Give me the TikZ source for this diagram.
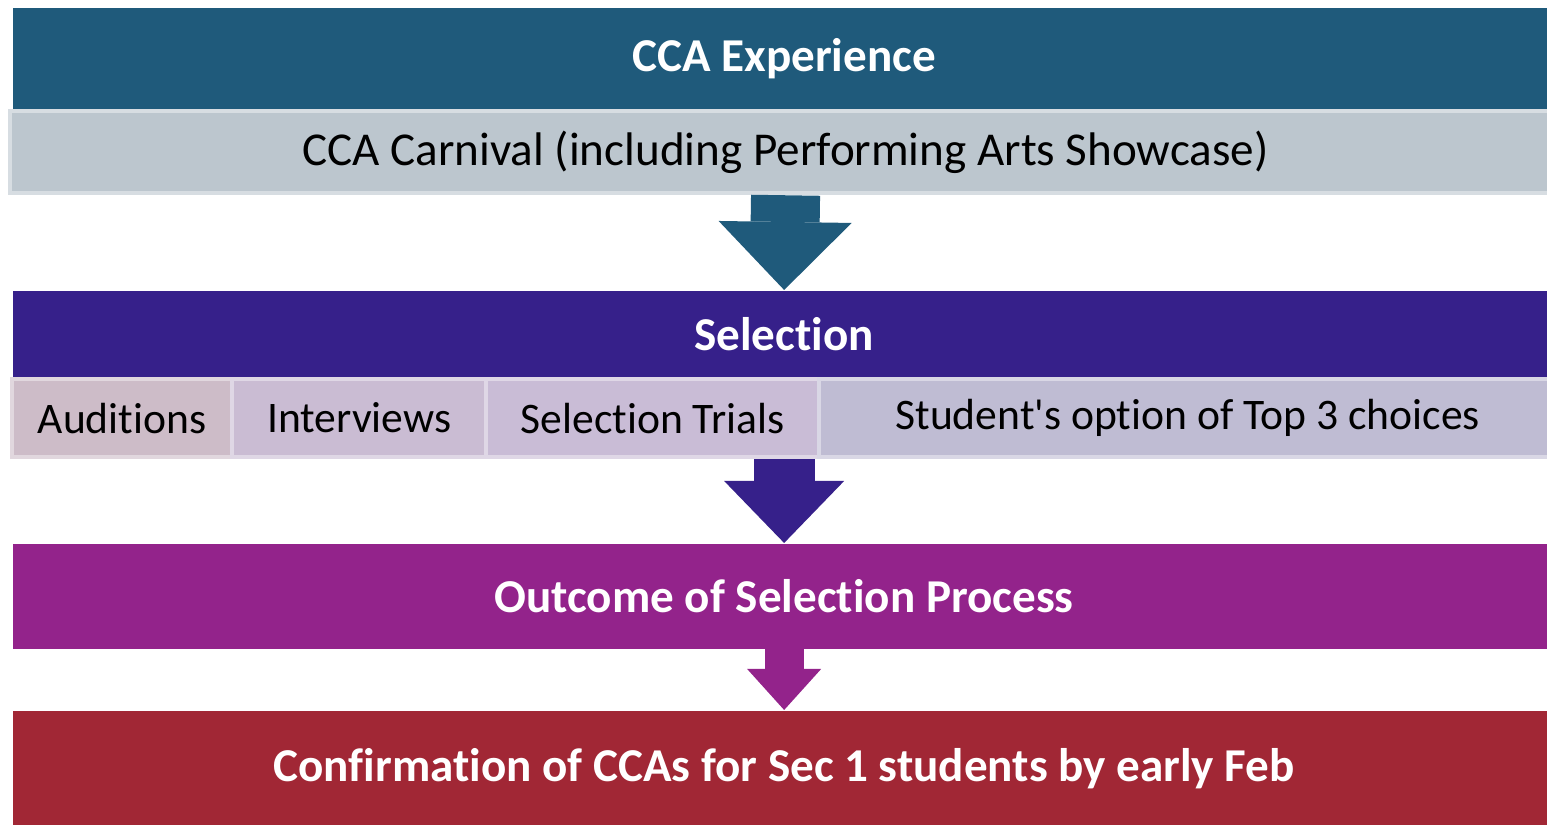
\documentclass[tikz,border=0pt]{standalone}
\usepackage{fontspec}
\setmainfont{Carlito}[Ligatures=NoCommon]
\usetikzlibrary{arrows.meta}
\definecolor{expblue}{HTML}{1F5A7B}
\definecolor{carngray}{HTML}{BCC6CE}
\definecolor{selpurple}{HTML}{36208A}
\definecolor{audpink}{HTML}{CDBCC8}
\definecolor{intlilac}{HTML}{CABCD3}
\definecolor{trililac}{HTML}{C9BCD6}
\definecolor{topgray}{HTML}{BFBCD3}
\definecolor{outmag}{HTML}{93238B}
\definecolor{confred}{HTML}{A12735}
\begin{document}
\begin{tikzpicture} [x=0.01cm,y=-0.01cm,font=\fontsize{12.4}{14}\selectfont,
		band/.style={inner sep=0pt,anchor=north west,minimum width=15.42cm,text=white,font=\fontsize{13.4}{15}\selectfont\bfseries},
		cell/.style={inner sep=0pt,anchor=north west,minimum height=0.78cm,line width=1.2pt},
		bigarrow/.style={draw=#1,line width=0.69cm,-{Triangle[width=1.33cm,length=0.68cm,line width=0pt]}}]
		\useasboundingbox (0,0) rectangle (1547,825);
		% bands
		\node [band,fill=expblue,minimum height=1.02cm] (exp) at (12,7) {CCA Experience};
		\node [cell,fill=carngray,draw=carngray!60!white,minimum width=15.5cm,minimum height=0.82cm,font=\fontsize{13.4}{15}\selectfont] (carn) at (8,109) {CCA Carnival (including Performing Arts Showcase)};
		\node [band,fill=selpurple,minimum height=0.87cm] (sel) at (12,290) {Selection};
		\node [cell,fill=audpink,draw=audpink!60!white,minimum width=2.2cm] (aud) at (10,377) {Auditions};
		\node [cell,fill=intlilac,draw=intlilac!60!white,minimum width=2.54cm] (int) at (230,377) {Interviews};
		\node [cell,fill=trililac,draw=trililac!60!white,minimum width=3.33cm] (tri) at (484,377) {Selection Trials};
		\node [cell,fill=topgray,draw=topgray!60!white,minimum width=7.37cm] (top) at (817,377) {Student\textquotesingle s option of Top 3 choices};
		\node [band,fill=outmag,minimum height=1.05cm] (out) at (12,543) {Outcome of Selection Process};
		\node [band,fill=confred,minimum height=1.15cm] (conf) at (12,710) {Confirmation of CCAs for Sec 1 students by early Feb};
		% arrows
		\draw [bigarrow=expblue] (carn.south) -- (sel.north);
		\draw [bigarrow=selpurple,line width=0.61cm,-{Triangle[width=1.2cm,length=0.62cm,line width=0pt]}] (sel.south |- tri.south) -- (out.north);
		\draw [bigarrow=outmag,line width=0.39cm,-{Triangle[width=0.74cm,length=0.41cm,line width=0pt]}] (out.south) -- (conf.north);
	\end{tikzpicture}
\end{document}
